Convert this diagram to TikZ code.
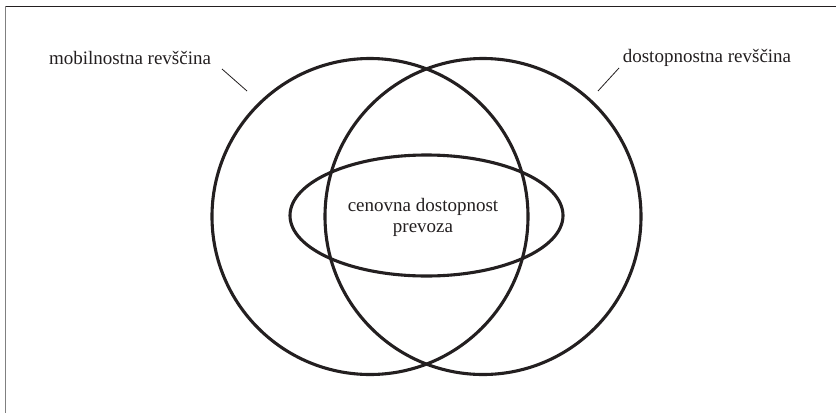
\documentclass[tikz,border=0pt]{standalone}
\usepackage{fontspec}
\setmainfont{Liberation Serif}
\definecolor{ink}{HTML}{231F20}
\tikzset{
    setline/.style={draw=ink, line width=3.1pt},
    leader/.style={draw=ink, line width=0.8pt},
    label/.style={text=ink, font=\fontsize{19}{21}\selectfont, inner sep=0pt, align=center}
}

\begin{document}
\begin{tikzpicture}[x=1pt, y=-1pt]
    \useasboundingbox (0,0) rectangle (836,413);

    % Define the centres of the sets
    \coordinate (mob) at (370,216.5);
    \coordinate (dos) at (483,216.5);
    \coordinate (cen) at (426.5,215.5);

    % Draw the frame
    \draw[ink, line width=1pt] (5,6) -- (836,6);
    \draw[gray, line width=1.2pt] (5.5,6) -- (5.5,413);

    % Draw the sets
    \draw[setline] (mob) circle (158pt);
    \draw[setline] (dos) circle (158pt);
    \draw[setline] (cen) ellipse [x radius=136.5pt, y radius=60.5pt];

    % Place the labels
    \node (mobtext) at (130,58) [label] {mobilnostna revščina};
    \node (dostext) at (707,58) [label] {dostopnostna revščina};
    \node (centext) at (423,217) [label] {cenovna dostopnost\\prevoza};

    % Draw the leader lines
    \coordinate (mobA) at (222,69);
    \coordinate (mobB) at (247,91);
    \coordinate (dosA) at (619,68);
    \coordinate (dosB) at (598,91);
    \draw[leader] (mobA) -- (mobB);
    \draw[leader] (dosA) -- (dosB);

\end{tikzpicture}
\end{document}
